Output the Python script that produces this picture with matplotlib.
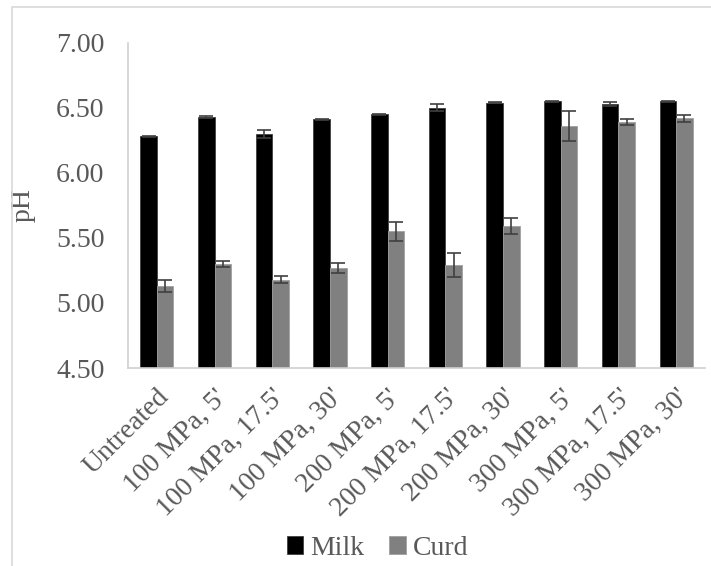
import numpy as np
import matplotlib
matplotlib.use("Agg")
import matplotlib.pyplot as plt
from matplotlib.patches import Rectangle

# Datos del grafico
categorias = ["Untreated", "100 MPa, 5'", "100 MPa, 17.5'", "100 MPa, 30'",
              "200 MPa, 5'", "200 MPa, 17.5'", "200 MPa, 30'",
              "300 MPa, 5'", "300 MPa, 17.5'", "300 MPa, 30'"]
leche = [6.28, 6.43, 6.30, 6.41, 6.45, 6.50, 6.54, 6.55, 6.53, 6.55]
leche_err = [0.005, 0.005, 0.03, 0.005, 0.005, 0.025, 0.005, 0.003, 0.015, 0.005]
cuajada = [5.13, 5.30, 5.18, 5.27, 5.55, 5.29, 5.59, 6.36, 6.39, 6.42]
cuajada_err = [0.043, 0.02, 0.03, 0.038, 0.072, 0.09, 0.06, 0.113, 0.02, 0.028]

plt.rcParams['font.family'] = 'Liberation Serif'
gris_texto = '#595959'

fig = plt.figure(figsize=(7.11, 5.66), dpi=100)
ax = fig.add_axes([128/711, 0.3498, (705 - 128)/711, 0.9246 - 0.3498])

x = np.arange(len(categorias))
w = 0.287
ax.bar(x - w/2, leche, w, color='black', edgecolor='#404040', linewidth=0.6,
       yerr=leche_err, ecolor='#404040', capsize=5, error_kw={'elinewidth': 1.2, 'capthick': 1.2},
       label='Milk')
ax.bar(x + w/2, cuajada, w, color='#808080', edgecolor='#a0a0a0', linewidth=0.6,
       yerr=cuajada_err, ecolor='#404040', capsize=5, error_kw={'elinewidth': 1.2, 'capthick': 1.2},
       label='Curd')

ax.set_xlim(-0.5, len(categorias) - 0.5)
ax.set_ylim(4.5, 7.0)
ax.set_yticks(np.arange(4.5, 7.01, 0.5))
ax.set_yticklabels(['%.2f' % v for v in np.arange(4.5, 7.01, 0.5)], fontsize=20,
                   color=gris_texto, family='Liberation Serif')
ax.set_xticks(x)
ax.set_xticklabels(categorias, rotation=45, ha='right', rotation_mode='anchor',
                   fontsize=20, color=gris_texto, family='Liberation Serif')
ax.tick_params(axis='both', length=0)
ax.tick_params(axis='x', pad=12)
ax.tick_params(axis='y', pad=17)

for s in ['top', 'right']:
    ax.spines[s].set_visible(False)
for s in ['left', 'bottom']:
    ax.spines[s].set_color('#d0d0d0')
    ax.spines[s].set_linewidth(1.2)

ax.set_ylabel('pH', fontsize=20, color=gris_texto, family='Liberation Serif')
ax.yaxis.set_label_coords(-0.16, 0.5)

leg = fig.legend(loc='center', bbox_to_anchor=(0.531, 0.031), ncol=2, frameon=False,
                 prop={'family': 'Liberation Serif', 'size': 20},
                 handlelength=0.6, handleheight=0.6, handletextpad=0.25,
                 columnspacing=0.9)
for t in leg.get_texts():
    t.set_color(gris_texto)

# Borde del area del grafico
fig.patches.append(Rectangle((12/711, -0.1), 1.2, (566 - 7)/566 + 0.1,
                             transform=fig.transFigure, fill=False,
                             edgecolor='#d9d9d9', linewidth=1.2))

fig.savefig('out.png', dpi=100)
